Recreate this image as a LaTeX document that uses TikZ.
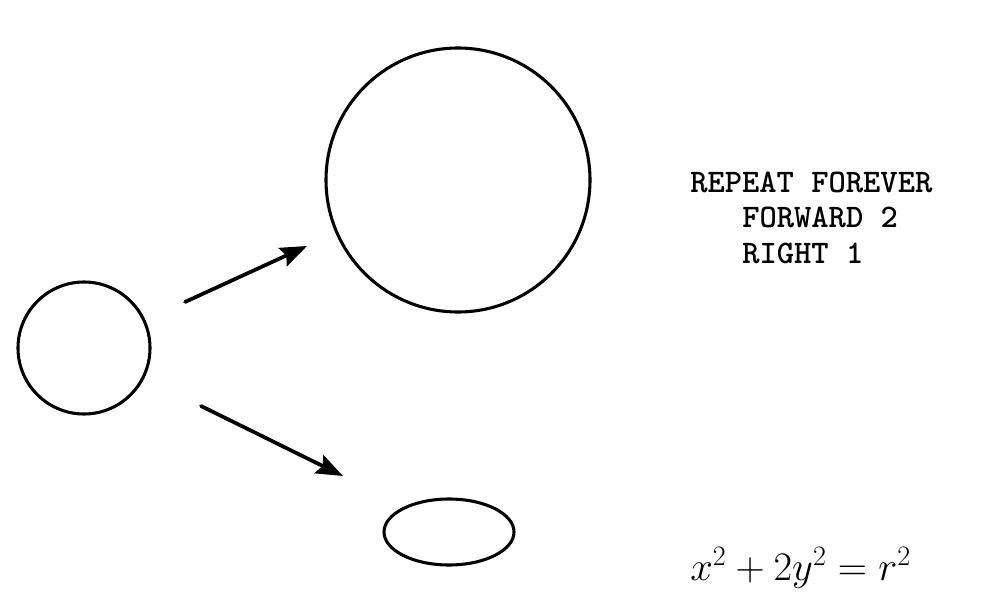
\documentclass[tikz,border=0pt]{standalone}
\usepackage{fontspec}
\usetikzlibrary{arrows.meta}
\begin{document}
\begin{tikzpicture}[x=0.75pt,y=-0.75pt,
  shapeline/.style={line width=2.3pt},
  arrowline/.style={line width=2.8pt,line cap=round,-{Stealth[length=20pt,width=15pt,inset=3pt]}},
  codeline/.style={anchor=base west,inner sep=0pt,font=\fontsize{24.7}{28}\selectfont\ttfamily\bfseries},
  mathline/.style={anchor=base west,inner sep=0pt,scale=1.22,font=\fontsize{24}{28}\selectfont}]
\useasboundingbox (0,0) rectangle (1004,596);
\draw[shapeline] (84,348) circle[radius=66];
\draw[shapeline] (458,180) circle[radius=132];
\draw[shapeline] (449,532) ellipse[x radius=65,y radius=33];
\coordinate (a1s) at (185,302);
\coordinate (a1e) at (307,246);
\coordinate (a2s) at (201,406);
\coordinate (a2e) at (343,476);
\draw[arrowline] (a1s) -- (a1e);
\draw[arrowline] (a2s) -- (a2e);
\node[codeline] (t1) at (690,192) {REPEAT FOREVER};
\node[codeline] (t2) at (742,227) {FORWARD 2};
\node[codeline] (t3) at (742,263) {RIGHT 1};
\node[mathline] (eq) at (690,580) {$x^2+2y^2=r^2$};
\end{tikzpicture}
\end{document}
